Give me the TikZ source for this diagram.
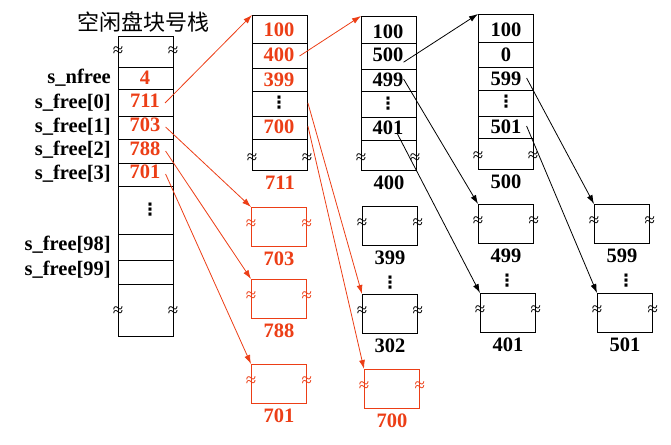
\documentclass[tikz,border=0pt]{standalone}
\usepackage{fontspec}
\setmainfont{Liberation Serif}
\newfontfamily\cjk{Noto Sans CJK SC}
\newfontfamily\symf{DejaVu Sans}
\usetikzlibrary{positioning,arrows.meta}
\definecolor{hot}{RGB}{236,62,22}

\begin{document}
\begin{tikzpicture}[x=1pt, y=-1pt,
        num/.style={font=\fontsize{20.5}{24}\bfseries\selectfont, inner sep=0pt, text height=14pt, text depth=0pt},
        col/.style={draw, line width=0.9pt, anchor=north west, inner sep=0pt, minimum width=55pt},
        blk/.style={draw, line width=0.9pt, anchor=north west, inner sep=0pt, minimum width=55pt, minimum height=39pt},
        wv/.style={inner sep=0pt, font=\fontsize{19}{19}\selectfont},
        vd/.style={inner sep=0pt, font=\symf\fontsize{17}{17}\bfseries\selectfont},
        ptr/.style={-{Latex[length=9pt,width=6pt]}, line width=0.8pt}]
        \useasboundingbox (0,0) rectangle (671,444);

        \node[font={\cjk\fontsize{22}{24}\selectfont}] (title) at (143,22) {空闲盘块号栈};

        \node[col, minimum height=300pt] (STK) at (118,36) {};
        \foreach \y in {67,89,116,139,163,186,234,260,284}
            \draw[line width=0.9pt] (STK.west |- 0,\y) -- (STK.east |- 0,\y);
        \node[num, anchor=east] (Lnf) at (111,76) {s\_nfree};
        \node[num, anchor=east] (L0) at (111,101) {s\_free[0]};
        \node[num, anchor=east] (L1) at (111,125) {s\_free[1]};
        \node[num, anchor=east] (L2) at (111,148) {s\_free[2]};
        \node[num, anchor=east] (L3) at (111,172) {s\_free[3]};
        \node[num, anchor=east] (L98) at (111,243) {s\_free[98]};
        \node[num, anchor=east] (L99) at (111,268) {s\_free[99]};
        \node[num, hot] (S4) at (145,77) {4};
        \node[num, hot] (S711) at (145,100) {711};
        \node[num, hot] (S703) at (145,124) {703};
        \node[num, hot] (S788) at (145,148) {788};
        \node[num, hot] (S701) at (145,171) {701};
        \node[vd] (SD) at (150,210) {⋮};

        \node[col, minimum height=155pt] (C711) at (252,15) {};
        \foreach \y in {43,68,91,116,139}
            \draw[line width=0.9pt] (C711.west |- 0,\y) -- (C711.east |- 0,\y);
        \node[num, hot] (P100) at (279,30) {100};
        \node[num, hot] (P400) at (279,54) {400};
        \node[num, hot] (P399) at (279,79) {399};
        \node[vd] (PD) at (279,103) {⋮};
        \node[num, hot] (P700) at (279,126) {700};
        \node[num, hot, below=4pt of C711] (T711) {711};

        \node[col, minimum height=154pt] (C400) at (361,16) {};
        \foreach \y in {43,69,91,117,140}
            \draw[line width=0.9pt] (C400.west |- 0,\y) -- (C400.east |- 0,\y);
        \node[num] (Q100) at (388,32) {100};
        \node[num] (Q500) at (388,55) {500};
        \node[num] (Q499) at (388,79) {499};
        \node[vd] (QD) at (388,104) {⋮};
        \node[num] (Q401) at (388,127) {401};
        \node[num, below=4pt of C400] (T400) {400};

        \node[col, minimum height=155pt] (C500) at (478,14) {};
        \foreach \y in {42,67,90,116,138}
            \draw[line width=0.9pt] (C500.west |- 0,\y) -- (C500.east |- 0,\y);
        \node[num] (R100) at (506,30) {100};
        \node[num] (R0) at (506,54) {0};
        \node[num] (R599) at (506,78) {599};
        \node[vd] (RD) at (506,102) {⋮};
        \node[num] (R501) at (506,126) {501};
        \node[num, below=4pt of C500] (T500) {500};

        \foreach \x/\y [count=\i] in {118/52,173/52,118/312,173/312,252/159,307/159,361/159,415/159,478/157,533/157}
            \node[wv] (V\i) at (\x,\y) {≈};

        \node[blk, hot] (B703) at (251,207) {};
        \node[blk, hot] (B788) at (251,279) {};
        \node[blk, hot] (B701) at (251,364) {};
        \node[blk] (B399) at (362,206) {};
        \node[blk] (B302) at (362,294) {};
        \node[blk, hot] (B700) at (364,369) {};
        \node[blk] (B499) at (478,204) {};
        \node[blk] (B401) at (480,293) {};
        \node[blk] (B599) at (594,204) {};
        \node[blk] (B501) at (597,293) {};
        \foreach \n/\c in {703/hot,788/hot,701/hot,700/hot,399/black,302/black,499/black,401/black,599/black,501/black} {
            \node[num, \c, below=4pt of B\n] (T\n) {\n};
            \node[wv, \c] (W\n l) at ([yshift=2pt]B\n.west) {≈};
            \node[wv, \c] (W\n r) at ([yshift=2pt]B\n.east) {≈};
        }
        \node[vd] (D1) at (390,283) {⋮};
        \node[vd] (D2) at (507,281) {⋮};
        \node[vd] (D3) at (626,281) {⋮};

        \draw[ptr, hot] ([xshift=5pt,yshift=-3pt]S711.east) -- (C711.north west);
        \draw[ptr, hot] ([xshift=5pt,yshift=-3pt]S703.east) -- (B703.north west);
        \draw[ptr, hot] ([xshift=5pt,yshift=-3pt]S788.east) -- (B788.north west);
        \draw[ptr, hot] ([xshift=5pt,yshift=-3pt]S701.east) -- (B701.north west);
        \draw[ptr, hot] ([xshift=5pt,yshift=-2pt]P400.east) -- (C400.north west);
        \draw[ptr, hot] (C711.east |- PD) -- (B302.north west);
        \draw[ptr, hot] (C711.east |- P700) -- (B700.north west);
        \draw[ptr] (Q500.south east) -- (C500.north west);
        \draw[ptr] (Q499.east) -- (B499.north west);
        \draw[ptr] ([xshift=-6pt]Q401.south east) -- (B401.north west);
        \draw[ptr] ([xshift=5pt]R599.east) -- (B599.north west);
        \draw[ptr] ([xshift=5pt]R501.east) -- (B501.north west);
    \end{tikzpicture}
\end{document}
